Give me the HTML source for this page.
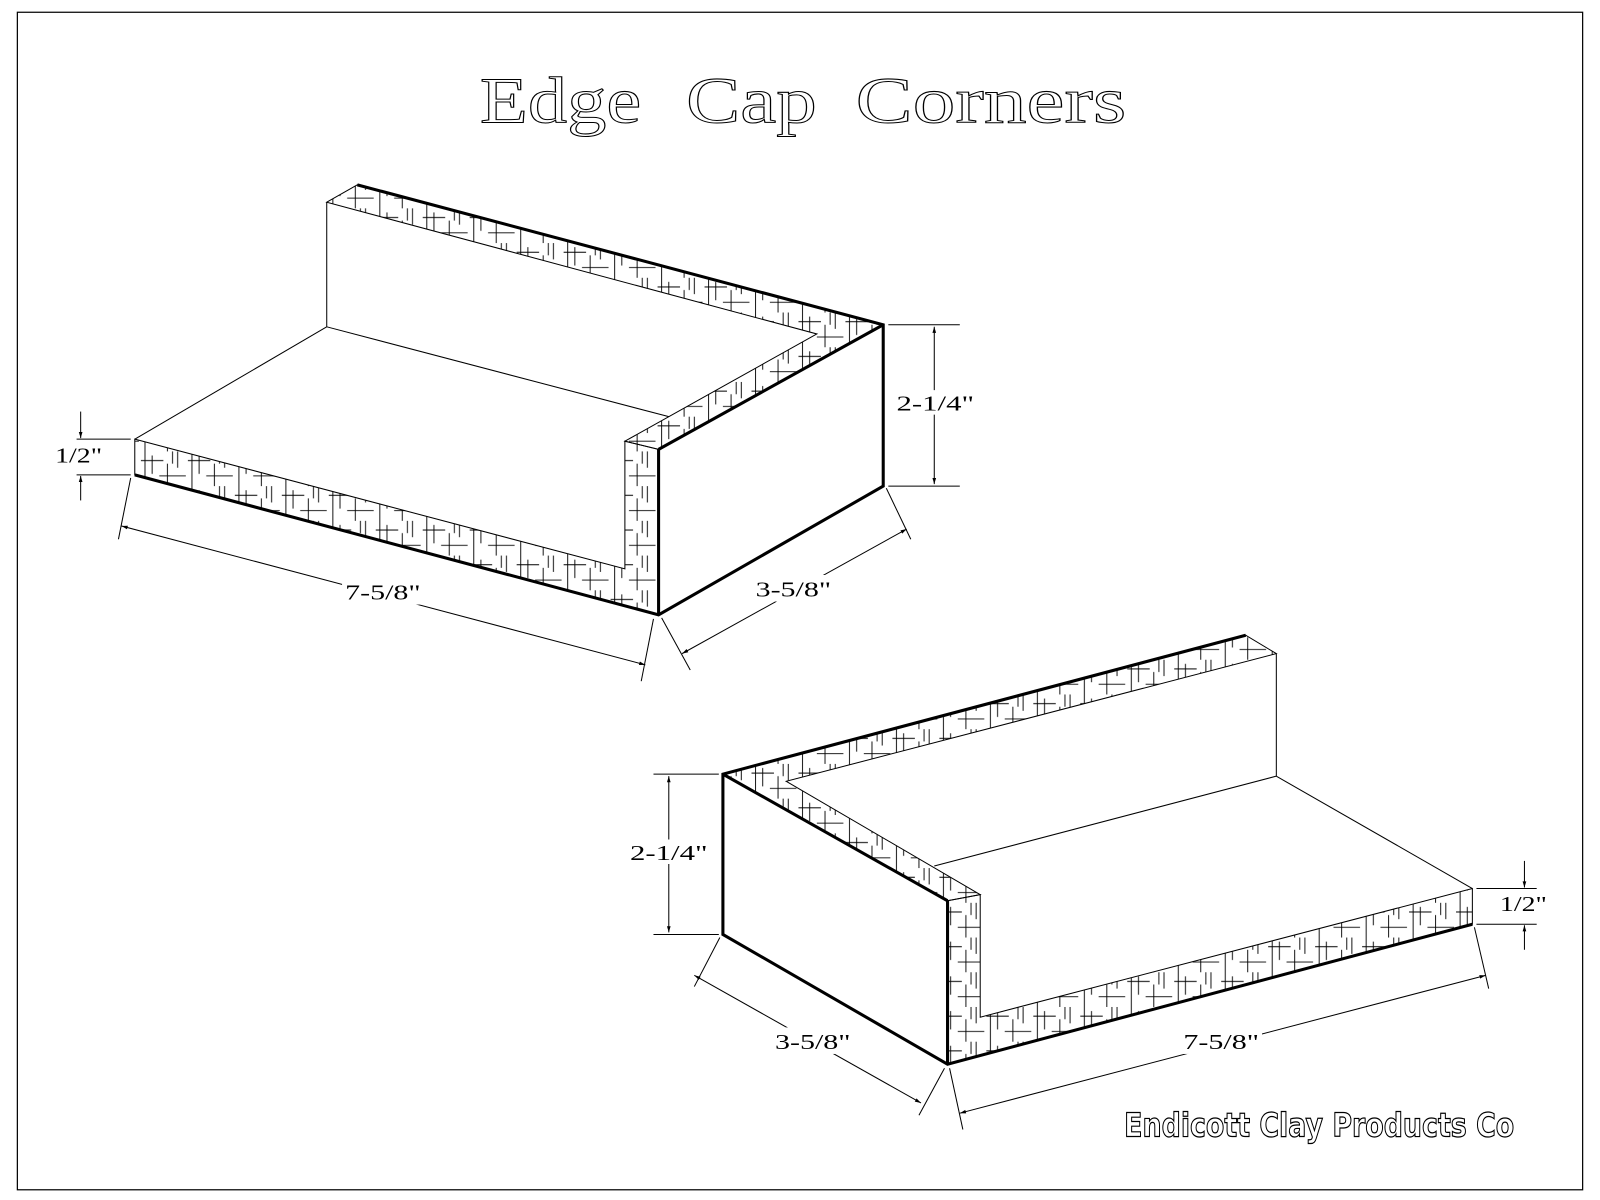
<!DOCTYPE html>
<html><head><meta charset="utf-8"><style>html,body{margin:0;padding:0;background:#fff}svg{display:block}</style></head>
<body>
<svg width="1600" height="1200" viewBox="0 0 1567 1175" preserveAspectRatio="none" xmlns="http://www.w3.org/2000/svg">
<defs>
<pattern id="h" width="46" height="34" patternUnits="userSpaceOnUse">
<g stroke="#000" stroke-width="0.9">
<line x1="4" y1="0" x2="4" y2="34"/><line x1="11" y1="4" x2="11" y2="22"/><line x1="26" y1="12" x2="26" y2="34"/>
<line x1="0" y1="9" x2="22" y2="9"/><line x1="18" y1="24" x2="44" y2="24"/><line x1="36" y1="0" x2="36" y2="16"/><line x1="31" y1="0" x2="31" y2="12"/>
</g></pattern>
<marker id="a" viewBox="0 0 10 10" refX="10" refY="5" markerWidth="10" markerHeight="6" orient="auto-start-reverse" markerUnits="userSpaceOnUse"><path d="M0,2 L10,5 L0,8 z" fill="#000"/></marker>
</defs>
<rect x="17" y="12" width="1533" height="1153" fill="none" stroke="#000" stroke-width="1.2"/>
<g font-family="Liberation Serif, serif" font-size="64" fill="#fff" stroke="#000" stroke-width="1">
<text x="470" y="120" textLength="158" lengthAdjust="spacingAndGlyphs">Edge</text>
<text x="672" y="120" textLength="128" lengthAdjust="spacingAndGlyphs">Cap</text>
<text x="838" y="120" textLength="265" lengthAdjust="spacingAndGlyphs">Corners</text>
</g>

<g fill="none" stroke="#000" stroke-width="1">
<polygon points="320,198 350,181 865,318 645,440 612,432 800,327" fill="url(#h)"/>
<polygon points="132,430 612,557 612,432 645,440 645,602 132,465" fill="url(#h)"/>
<line x1="320" y1="198" x2="320" y2="320"/>
<line x1="320" y1="320" x2="655" y2="408"/>
<line x1="320" y1="320" x2="132" y2="430"/>
<g stroke-width="3"><polyline points="350,181 865,318 865,476 645,602 132,465"/><line x1="865" y1="318" x2="645" y2="440"/><line x1="645" y1="440" x2="645" y2="602"/></g>
<polygon points="708,758 1220,622 1250,640 770,765 960,876 928,882" fill="url(#h)"/>
<polygon points="928,882 960,876 960,996 1442,870 1442,905 928,1042" fill="url(#h)"/>
<line x1="1250" y1="640" x2="1250" y2="760"/>
<line x1="1250" y1="760" x2="915" y2="848"/>
<line x1="1250" y1="760" x2="1442" y2="870"/>
<g stroke-width="3"><polyline points="1220,622 708,758 708,915 928,1042 1442,905"/><line x1="708" y1="758" x2="928" y2="882"/><line x1="928" y1="882" x2="928" y2="1042"/></g>
<line x1="870" y1="318" x2="940" y2="318"/><line x1="870" y1="476" x2="940" y2="476"/>
<line x1="915" y1="320" x2="915" y2="474" marker-start="url(#a)" marker-end="url(#a)"/>
<line x1="75" y1="430" x2="128" y2="430"/><line x1="75" y1="465" x2="128" y2="465"/>
<line x1="79" y1="403" x2="79" y2="429" marker-end="url(#a)"/><line x1="79" y1="490" x2="79" y2="466" marker-end="url(#a)"/>
<line x1="128" y1="468" x2="116" y2="528"/><line x1="640" y1="606" x2="628" y2="667"/>
<line x1="119" y1="515" x2="632" y2="651" marker-start="url(#a)" marker-end="url(#a)"/>
<line x1="868" y1="478" x2="892" y2="528"/><line x1="648" y1="605" x2="676" y2="656"/>
<line x1="888" y1="518" x2="668" y2="640" marker-start="url(#a)" marker-end="url(#a)"/>
<line x1="640" y1="758" x2="704" y2="758"/><line x1="640" y1="915" x2="704" y2="915"/>
<line x1="655" y1="760" x2="655" y2="913" marker-start="url(#a)" marker-end="url(#a)"/>
<line x1="1446" y1="870" x2="1505" y2="870"/><line x1="1446" y1="905" x2="1505" y2="905"/>
<line x1="1493" y1="843" x2="1493" y2="869" marker-end="url(#a)"/><line x1="1493" y1="930" x2="1493" y2="906" marker-end="url(#a)"/>
<line x1="930" y1="1046" x2="943" y2="1106"/><line x1="1444" y1="908" x2="1458" y2="968"/>
<line x1="940" y1="1090" x2="1455" y2="955" marker-start="url(#a)" marker-end="url(#a)"/>
<line x1="705" y1="918" x2="680" y2="966"/><line x1="925" y1="1046" x2="900" y2="1092"/>
<line x1="680" y1="955" x2="902" y2="1080" marker-start="url(#a)" marker-end="url(#a)"/>
</g>
<g font-family="Liberation Serif, serif" font-size="21" text-anchor="middle">
<rect x="876" y="382" width="80" height="24" fill="#fff"/><text x="916" y="402" textLength="76" lengthAdjust="spacingAndGlyphs">2-1/4"</text>
<text x="77" y="453" textLength="46" lengthAdjust="spacingAndGlyphs">1/2"</text>
<rect x="335" y="566" width="80" height="26" fill="#fff"/><text x="375" y="587" textLength="74" lengthAdjust="spacingAndGlyphs">7-5/8"</text>
<rect x="737" y="563" width="80" height="26" fill="#fff"/><text x="777" y="584" textLength="74" lengthAdjust="spacingAndGlyphs">3-5/8"</text>
<rect x="615" y="822" width="80" height="24" fill="#fff"/><text x="655" y="842" textLength="76" lengthAdjust="spacingAndGlyphs">2-1/4"</text>
<text x="1492" y="892" textLength="46" lengthAdjust="spacingAndGlyphs">1/2"</text>
<rect x="1156" y="1006" width="80" height="26" fill="#fff"/><text x="1196" y="1027" textLength="74" lengthAdjust="spacingAndGlyphs">7-5/8"</text>
<rect x="756" y="1006" width="80" height="26" fill="#fff"/><text x="796" y="1027" textLength="74" lengthAdjust="spacingAndGlyphs">3-5/8"</text>
</g>
<text x="1292" y="1113" text-anchor="middle" font-family="DejaVu Sans, sans-serif" font-weight="bold" font-size="32" fill="#fff" stroke="#000" stroke-width="1.2" textLength="382" lengthAdjust="spacingAndGlyphs">Endicott Clay Products Co</text>
</svg>
</body></html>
